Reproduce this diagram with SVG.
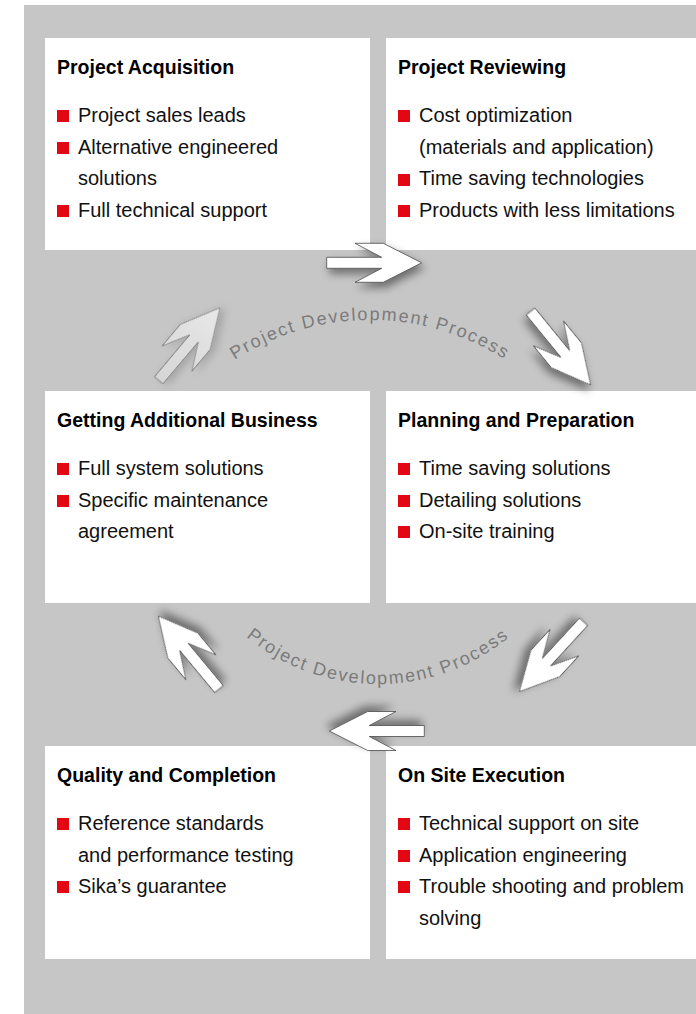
<svg xmlns="http://www.w3.org/2000/svg" xmlns:xlink="http://www.w3.org/1999/xlink" width="696" height="1014" viewBox="0 0 696 1014">
<defs>
<style>
.box{fill:#ffffff}
.ttl{font-family:"Liberation Sans",Arial,sans-serif;font-weight:bold;font-size:21px;fill:#000}
.itm{font-family:"Liberation Sans",Arial,sans-serif;font-size:21px;fill:#111}
.sq{fill:#e30613}
.arc{font-family:"Liberation Sans",Arial,sans-serif;font-size:18px;fill:#7b7b7b;letter-spacing:1.8px}
.arw{fill:#ffffff;stroke:#4a4a4a;stroke-width:0.8;stroke-linejoin:miter}
.arwl{fill:url(#lg);stroke:#7a7a7a;stroke-width:0.8}
</style>
<filter id="sh" x="-50%" y="-50%" width="200%" height="200%">
<feDropShadow dx="3" dy="5" stdDeviation="4" flood-color="#000" flood-opacity="0.45"/>
</filter>
<filter id="shl" x="-50%" y="-50%" width="200%" height="200%">
<feDropShadow dx="3" dy="4" stdDeviation="4" flood-color="#000" flood-opacity="0.18"/>
</filter>
<linearGradient id="lg" x1="0" y1="0" x2="1" y2="0">
<stop offset="0" stop-color="#d6d6d6"/>
<stop offset="1" stop-color="#e8e8e8"/>
</linearGradient>
<path id="ar" d="M0,0 L-38.4,19.5 L-66.7,19.5 L-40,5.5 L-95,5.5 L-95,-5.5 L-40,-5.5 L-66.7,-19.5 L-38.4,-19.5 Z"/>
<path id="arcTop" d="M153.5,445 A250,250 0 0 1 586.5,445"/>
<path id="arcBot" d="M198.7,580.5 A207,207 0 0 0 557.3,580.5"/>
</defs>
<rect x="24" y="5" width="672" height="1009" fill="#c6c6c6"/>

<g id="n1">
<rect class="box" x="45" y="38" width="325" height="212"/>
<text class="ttl" transform="translate(57,74.3) scale(0.93,1)">Project Acquisition</text>
<rect class="sq" x="57" y="110" width="12" height="12"/>
<text class="itm" transform="translate(78,121.7) scale(0.953,1)">Project sales leads</text>
<rect class="sq" x="57" y="142" width="12" height="12"/>
<text class="itm" transform="translate(78,153.5) scale(0.953,1)">Alternative engineered</text>
<text class="itm" transform="translate(78,185.3) scale(0.953,1)">solutions</text>
<rect class="sq" x="57" y="205" width="12" height="12"/>
<text class="itm" transform="translate(78,217.1) scale(0.953,1)">Full technical support</text>
</g>

<g id="n2">
<rect class="box" x="386" y="38" width="310" height="212"/>
<text class="ttl" transform="translate(398,74.3) scale(0.93,1)">Project Reviewing</text>
<rect class="sq" x="398" y="110" width="12" height="12"/>
<text class="itm" transform="translate(419,121.7) scale(0.953,1)">Cost optimization</text>
<text class="itm" transform="translate(419,153.5) scale(0.953,1)">(materials and application)</text>
<rect class="sq" x="398" y="174" width="12" height="12"/>
<text class="itm" transform="translate(419,185.3) scale(0.953,1)">Time saving technologies</text>
<rect class="sq" x="398" y="205" width="12" height="12"/>
<text class="itm" transform="translate(419,217.1) scale(0.953,1)">Products with less limitations</text>
</g>

<g id="n3">
<rect class="box" x="45" y="391" width="325" height="212"/>
<text class="ttl" transform="translate(57,427.3) scale(0.93,1)">Getting Additional Business</text>
<rect class="sq" x="57" y="463" width="12" height="12"/>
<text class="itm" transform="translate(78,474.7) scale(0.953,1)">Full system solutions</text>
<rect class="sq" x="57" y="495" width="12" height="12"/>
<text class="itm" transform="translate(78,506.5) scale(0.953,1)">Specific maintenance</text>
<text class="itm" transform="translate(78,538.3) scale(0.953,1)">agreement</text>
</g>

<g id="n4">
<rect class="box" x="386" y="391" width="310" height="212"/>
<text class="ttl" transform="translate(398,427.3) scale(0.93,1)">Planning and Preparation</text>
<rect class="sq" x="398" y="463" width="12" height="12"/>
<text class="itm" transform="translate(419,474.7) scale(0.953,1)">Time saving solutions</text>
<rect class="sq" x="398" y="495" width="12" height="12"/>
<text class="itm" transform="translate(419,506.5) scale(0.953,1)">Detailing solutions</text>
<rect class="sq" x="398" y="526" width="12" height="12"/>
<text class="itm" transform="translate(419,538.3) scale(0.953,1)">On-site training</text>
</g>

<g id="n5">
<rect class="box" x="45" y="746" width="325" height="213"/>
<text class="ttl" transform="translate(57,782.3) scale(0.93,1)">Quality and Completion</text>
<rect class="sq" x="57" y="818" width="12" height="12"/>
<text class="itm" transform="translate(78,829.7) scale(0.953,1)">Reference standards</text>
<text class="itm" transform="translate(78,861.5) scale(0.953,1)">and performance testing</text>
<rect class="sq" x="57" y="881" width="12" height="12"/>
<text class="itm" transform="translate(78,893.3) scale(0.953,1)">Sika’s guarantee</text>
</g>

<g id="n6">
<rect class="box" x="386" y="746" width="310" height="213"/>
<text class="ttl" transform="translate(398,782.3) scale(0.93,1)">On Site Execution</text>
<rect class="sq" x="398" y="818" width="12" height="12"/>
<text class="itm" transform="translate(419,829.7) scale(0.953,1)">Technical support on site</text>
<rect class="sq" x="398" y="850" width="12" height="12"/>
<text class="itm" transform="translate(419,861.5) scale(0.953,1)">Application engineering</text>
<rect class="sq" x="398" y="881" width="12" height="12"/>
<text class="itm" transform="translate(419,893.3) scale(0.953,1)">Trouble shooting and problem</text>
<text class="itm" transform="translate(419,925.1) scale(0.953,1)">solving</text>
</g>

<g id="labels">
<text class="arc"><textPath xlink:href="#arcTop" startOffset="50%" text-anchor="middle">Project Development Process</textPath></text>
<text class="arc"><textPath xlink:href="#arcBot" startOffset="50%" text-anchor="middle">Project Development Process</textPath></text>
</g>

<g id="connectors">
<use href="#ar" class="arw" filter="url(#sh)" transform="translate(421.7,262.8)"/>
<use href="#ar" class="arw" filter="url(#sh)" transform="translate(590.7,385) rotate(50.7)"/>
<use href="#ar" class="arw" filter="url(#sh)" transform="translate(519.3,691.7) rotate(132.6)"/>
<use href="#ar" class="arw" filter="url(#sh)" transform="translate(329.3,731) rotate(180)"/>
<use href="#ar" class="arw" filter="url(#sh)" transform="translate(158.3,616) rotate(-129.7)"/>
<use href="#ar" class="arwl" filter="url(#shl)" transform="translate(220,307.7) rotate(-49.8)"/>
</g>
</svg>
